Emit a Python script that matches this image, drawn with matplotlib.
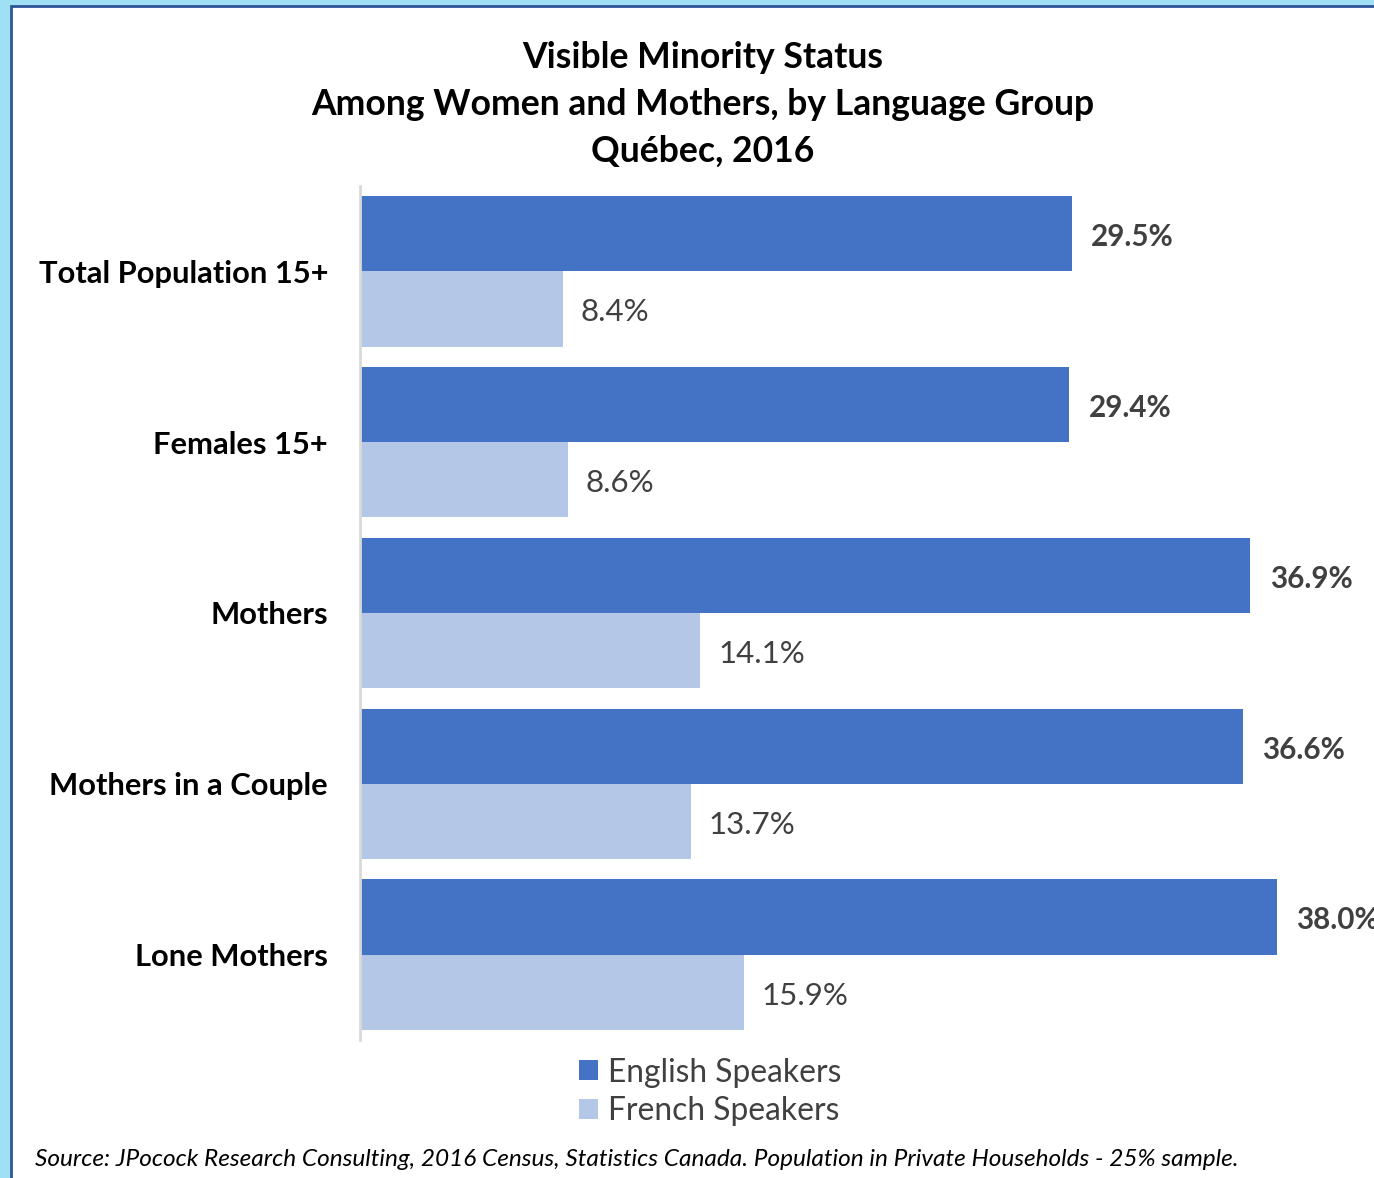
"""
Visible minority status among women and mothers, by language group (Québec, 2016).
Horizontal grouped bars, English vs French speakers.
"""

import matplotlib
matplotlib.use("Agg")

import matplotlib.pyplot as plt
import numpy as np
from matplotlib.patches import Rectangle

CATEGORIAS = ["Total Population 15+", "Females 15+", "Mothers", "Mothers in a Couple", "Lone Mothers"]
INGLES = [29.5, 29.4, 36.9, 36.6, 38.0]
FRANCES = [8.4, 8.6, 14.1, 13.7, 15.9]
SERIES = ["English Speakers", "French Speakers"]

TITULO = "Visible Minority Status\nAmong Women and Mothers, by Language Group\nQuébec, 2016"
FUENTE = ("Source: JPocock Research Consulting, 2016 Census, Statistics Canada. "
          "Population in Private Households - 25% sample.")

AZUL = "#4472C4"
AZUL_CLARO = "#B4C7E7"
GRIS_TEXTO = "#404040"
FAMILIA = ["Lato", "DejaVu Sans"]

W, H = 1374, 1178  # tamaño de la figura en píxeles


def main() -> None:
    plt.rcParams["font.family"] = FAMILIA
    fig = plt.figure(figsize=(W / 100, H / 100), dpi=100)

    # marco tipo captura (borde celeste + línea azul)
    fig.patches.append(Rectangle((0, 0), 1, 1, transform=fig.transFigure,
                                 facecolor="#9FE0F4", edgecolor="none", zorder=-3))
    fig.patches.append(Rectangle((11 / W, -0.1), 1.2, 1 - 6 / H + 0.1, transform=fig.transFigure,
                                 facecolor="white", edgecolor="#2F5597", linewidth=2, zorder=-2))

    ax = fig.add_axes([360 / W, 1 - 1040 / H, 1 - 360 / W, (1040 - 186) / H])
    ax.set_facecolor("none")

    y = np.arange(len(CATEGORIAS))
    alto = 0.44
    b1 = ax.barh(y - alto / 2, INGLES, height=alto, color=AZUL, label=SERIES[0])
    b2 = ax.barh(y + alto / 2, FRANCES, height=alto, color=AZUL_CLARO, label=SERIES[1])

    # etiquetas de valor (un poco por debajo del centro, como en el original)
    for barra, v in zip(b1, INGLES):
        ax.text(v + 0.8, barra.get_y() + barra.get_height() / 2 + 0.02, f"{v:.1f}%",
                va="center", ha="left", fontsize=21.3, fontweight="bold", color=GRIS_TEXTO, clip_on=False)
    for barra, v in zip(b2, FRANCES):
        ax.text(v + 0.75, barra.get_y() + barra.get_height() / 2 + 0.02, f"{v:.1f}%",
                va="center", ha="left", fontsize=22.5, color=GRIS_TEXTO, clip_on=False)

    ax.set_xlim(0, 1014 / 24.13)
    ax.set_ylim(len(CATEGORIAS) - 0.5, -0.5)
    ax.set_yticks(y)
    ax.set_yticklabels(CATEGORIAS, fontsize=22.2, fontweight="bold", color="black")
    ax.tick_params(axis="y", length=0, pad=23)
    ax.set_xticks([])
    for lado in ["top", "right", "bottom"]:
        ax.spines[lado].set_visible(False)
    ax.spines["left"].set_color("#D9D9D9")
    ax.spines["left"].set_linewidth(2)

    # título: una línea por texto, alineadas por la línea base
    for i, linea in enumerate(TITULO.split("\n")):
        fig.text(703 / W, 1 - (68 + 47 * i) / H, linea, ha="center", va="baseline",
                 fontsize=25.6, fontweight="bold")

    fig.legend(handles=[b1, b2], labels=SERIES, loc="center", bbox_to_anchor=(710 / W, 1 - 1092 / H),
               frameon=False, fontsize=22.9, handlelength=0.6, handleheight=0.6, handletextpad=0.3,
               labelspacing=0.28, labelcolor=GRIS_TEXTO, borderpad=0)

    fig.text(35 / W, 1 - 1160 / H, FUENTE, ha="left", va="center", fontsize=17.6,
             style="italic", color="black")

    fig.savefig("out.png", dpi=100)
    plt.close(fig)


if __name__ == "__main__":
    main()
